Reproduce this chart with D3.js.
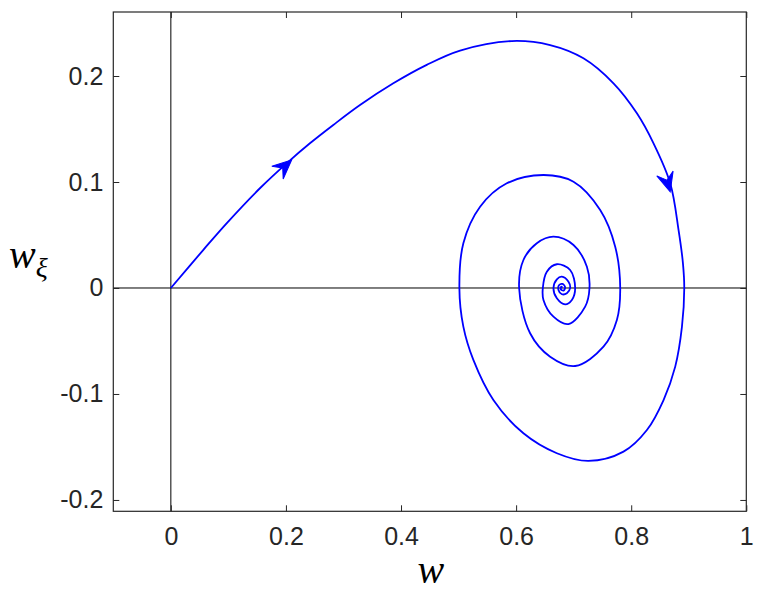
<!DOCTYPE html>
<html>
<head>
<meta charset="utf-8">
<script src="https://cdn.jsdelivr.net/npm/d3@7"></script>
<style>
  html, body { margin: 0; padding: 0; background: #fff; }
  svg { display: block; }
</style>
</head>
<body>
<svg id="chart" width="759" height="601"></svg>
<script>
// Trajectory (w, w_xi)
const wVals = [0, 0.0562, 0.0969, 0.1548, 0.2012, 0.2417, 0.2823, 0.3287, 0.3866, 0.4447, 0.5026,
  0.5925, 0.6591, 0.7170, 0.7692, 0.8099, 0.8388, 0.8678, 0.8823, 0.8899, 0.8922,
  0.8882, 0.8765, 0.8562, 0.8273, 0.7866, 0.7257, 0.6708, 0.6127, 0.5605, 0.5257, 0.5083, 0.5014,
  0.5083, 0.5374, 0.5838, 0.6475, 0.6997, 0.7461, 0.7722, 0.7809,
  0.7751, 0.7518, 0.7026, 0.6591, 0.6243, 0.6052,
  0.6127, 0.6360, 0.6649, 0.6997, 0.7230, 0.7275,
  0.7200, 0.6910, 0.6649, 0.6475, 0.6464,
  0.6534, 0.6708, 0.6939, 0.7026,
  0.6969, 0.6852, 0.6708, 0.6649,
  0.6708, 0.6795, 0.6910, 0.6939,
  0.6882, 0.6795, 0.6736, 0.6748, 0.6805, 0.6852, 0.6823, 0.6777, 0.6783, 0.6805];
const wxiVals = [0, 0.0358, 0.0610, 0.0941, 0.1176, 0.1365, 0.1538, 0.1726, 0.1931, 0.2105, 0.2240,
  0.2330, 0.2292, 0.2167, 0.1931, 0.1648, 0.1365, 0.0988, 0.0547, 0.0233, 0,
  -0.0365, -0.0742, -0.1057, -0.1340, -0.1544, -0.1632, -0.1559, -0.1371, -0.1057, -0.0679, -0.0365, 0,
  0.0422, 0.0767, 0.0988, 0.1066, 0.1003, 0.0736, 0.0390, 0,
  -0.0302, -0.0554, -0.0736, -0.0648, -0.0427, 0,
  0.0264, 0.0422, 0.0484, 0.0406, 0.0201, 0,
  -0.0176, -0.0340, -0.0271, -0.0113, 0,
  0.0154, 0.0224, 0.0170, 0,
  -0.0113, -0.0154, -0.0097, 0,
  0.0082, 0.0107, 0.0059, 0,
  -0.0050, -0.0059, -0.0019, 0.0028, 0.0038, 0.0007, -0.0025, -0.0012, 0.0012, 0.0003];

// Arrowhead tip locations (data units)
const arrowW = [0.2099, 0.8678];
const arrowWxi = [0.1208, 0.0908];

const xTicks = [0, 0.2, 0.4, 0.6, 0.8, 1];
const yTicks = [-0.2, -0.1, 0, 0.1, 0.2];
const xDomain = [-0.1, 1];
const yDomain = [-0.2107, 0.2604];

const svg = d3.select("#chart");
const L = 113.3, R = 746.3, T = 12, B = 511.3;
const x = d3.scaleLinear().domain(xDomain).range([L, R]);
const y = d3.scaleLinear().domain(yDomain).range([B, T]);

const axisColor = "#262626";
const tickFont = "'Liberation Sans', Arial, Helvetica, sans-serif";

// zero lines
svg.append("line").attr("x1", x(0)).attr("x2", x(0)).attr("y1", T).attr("y2", B)
  .attr("stroke", "#000").attr("stroke-width", 1);
svg.append("line").attr("x1", L).attr("x2", R).attr("y1", y(0)).attr("y2", y(0))
  .attr("stroke", "#000").attr("stroke-width", 1);

// trajectory
const pts = wVals.map((v, i) => [v, wxiVals[i]]);
const line = d3.line().x(d => x(d[0])).y(d => y(d[1])).curve(d3.curveCatmullRom.alpha(0.5));
svg.append("path").attr("d", line(pts)).attr("fill", "none")
  .attr("stroke", "#0000ff").attr("stroke-width", 1.8).attr("stroke-linejoin", "round");

// arrowheads
const pxPts = pts.map(d => [x(d[0]), y(d[1])]);
arrowW.forEach((aw, k) => {
  const tx = x(aw), ty = y(arrowWxi[k]);
  let best = 1, bd = Infinity;
  for (let i = 1; i < pxPts.length - 1; i++) {
    const dd = (pxPts[i][0] - tx) ** 2 + (pxPts[i][1] - ty) ** 2;
    if (dd < bd) { bd = dd; best = i; }
  }
  const dx = pxPts[best + 1][0] - pxPts[best - 1][0];
  const dy = pxPts[best + 1][1] - pxPts[best - 1][1];
  const ang = Math.atan2(dy, dx) * 180 / Math.PI;
  const len = 19, hw = 8.5, notch = 12;
  svg.append("path")
    .attr("d", `M0,0 L${-len},${-hw} L${-notch},0 L${-len},${hw} Z`)
    .attr("transform", `translate(${tx},${ty}) rotate(${ang})`)
    .attr("fill", "#0000ff").attr("stroke", "#0000ff").attr("stroke-width", 1)
    .attr("stroke-linejoin", "miter");
});

// axes
const fmt = d => String(+(+d).toFixed(2));
const gx = svg.append("g").attr("transform", `translate(0,${B})`)
  .call(d3.axisBottom(x).tickValues(xTicks).tickSize(-6).tickPadding(16).tickFormat(fmt));
const gxTop = svg.append("g").attr("transform", `translate(0,${T})`)
  .call(d3.axisTop(x).tickValues(xTicks).tickSize(-6).tickFormat(""));
const gy = svg.append("g").attr("transform", `translate(${L},0)`)
  .call(d3.axisLeft(y).tickValues(yTicks).tickSize(-6).tickPadding(10).tickFormat(fmt));
const gyR = svg.append("g").attr("transform", `translate(${R},0)`)
  .call(d3.axisRight(y).tickValues(yTicks).tickSize(-6).tickFormat(""));
[gx, gxTop, gy, gyR].forEach(g => {
  g.select(".domain").remove();
  g.selectAll(".tick line").attr("stroke", axisColor).attr("stroke-width", 1);
  g.selectAll(".tick text").attr("fill", axisColor)
    .style("font-family", tickFont).style("font-size", "25px");
});

// box
svg.append("rect").attr("x", L).attr("y", T).attr("width", R - L).attr("height", B - T)
  .attr("fill", "none").attr("stroke", axisColor).attr("stroke-width", 1.2);

// axis labels
const labelFont = "'Liberation Serif', 'Times New Roman', serif";
svg.append("text").attr("x", (L + R) / 2 + 1).attr("y", 583)
  .attr("text-anchor", "middle").attr("fill", "#000")
  .style("font-family", labelFont).style("font-style", "italic").style("font-size", "40px")
  .text("w");
const yl = svg.append("text").attr("x", 9).attr("y", 268).attr("fill", "#000")
  .style("font-family", labelFont).style("font-style", "italic").style("font-size", "40px");
yl.append("tspan").text("w");
yl.append("tspan").attr("dy", 9).style("font-size", "28px").text("ξ");
</script>
</body>
</html>
